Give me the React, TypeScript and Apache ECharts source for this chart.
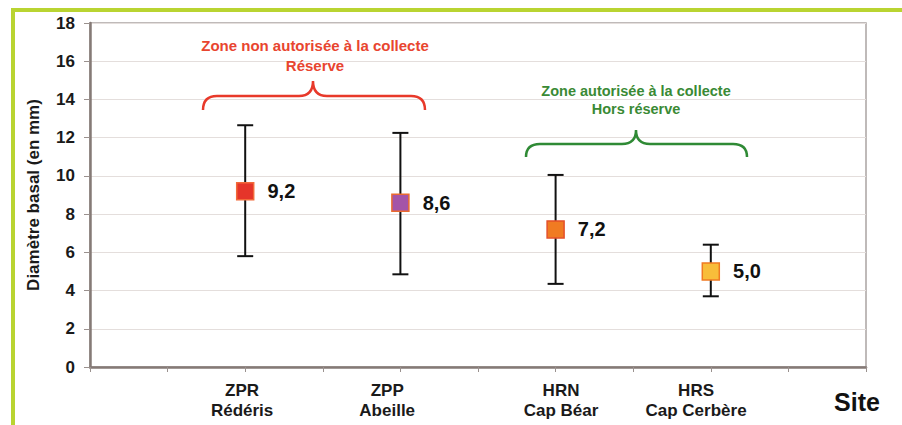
import React, { useEffect, useRef } from "react";
import * as echarts from "echarts";

// ---- data ----
const siteLabels = ["ZPR\nRédéris", "ZPP\nAbeille", "HRN\nCap Béar", "HRS\nCap Cerbère"];
const siteX = [2, 4, 6, 8];
const siteLabelX = [1.96, 3.83, 6.07, 7.81];
const means = [9.2, 8.6, 7.2, 5.0];
const lows = [5.8, 4.85, 4.35, 3.7];
const highs = [12.65, 12.25, 10.05, 6.4];
const markerFill = ["#e5352a", "#a454a8", "#f07b22", "#f8bd3a"];
const markerBorder = ["#f26a3a", "#ea6a30", "#e4502a", "#f07a22"];
const yTicks = [0, 2, 4, 6, 8, 10, 12, 14, 16, 18];

const FONT = "'Liberation Sans', Arial, sans-serif";

echarts.graphic.registerShape(
  "braceRed",
  echarts.graphic.extendPath(
    "M203,110 Q203,96 217,96 L299,96 Q313,96 313,81 Q313,96 327,96 L411,96 Q425,96 425,110",
    {}
  )
);
echarts.graphic.registerShape(
  "braceGreen",
  echarts.graphic.extendPath(
    "M526,157 Q526,144 540,144 L622,144 Q636,144 636,130 Q636,144 650,144 L733,144 Q747,144 747,157",
    {}
  )
);

export default function App() {
  const ref = useRef<HTMLDivElement>(null);

  useEffect(() => {
    if (!ref.current) return;
    const chart = echarts.init(ref.current, null, { renderer: "svg" });

    const option: any = {
      animation: false,
      backgroundColor: "#ffffff",
      textStyle: { fontFamily: FONT },
      grid: {
        left: 90,
        right: 36,
        top: 23,
        bottom: 58,
        show: true,
        borderColor: "#aaa4a2",
        borderWidth: 1.5,
        backgroundColor: "transparent",
      },
      xAxis: {
        type: "value",
        min: 0,
        max: 10,
        interval: 1,
        axisLine: { show: true, onZero: false, lineStyle: { color: "#857a76", width: 2.5 } },
        axisTick: { show: true, length: 5, lineStyle: { color: "#9a918e", width: 1 } },
        splitLine: { show: false },
        axisLabel: {
          show: true,
          customValues: siteLabelX,
          margin: 13,
          formatter: (v: number) => {
            const i = siteLabelX.findIndex((x) => Math.abs(x - v) < 1e-6);
            return i >= 0 ? siteLabels[i] : "";
          },
          color: "#1a1a1a",
          fontWeight: "bold",
          fontSize: 17,
          lineHeight: 20,
          fontFamily: FONT,
        },
      },
      yAxis: {
        type: "value",
        min: 0,
        max: 18,
        interval: 2,
        name: "Diamètre basal (en mm)",
        nameLocation: "middle",
        nameRotate: 90,
        nameGap: 48,
        nameTextStyle: { color: "#1a1a1a", fontWeight: "bold", fontSize: 17, fontFamily: FONT },
        axisLine: { show: true, lineStyle: { color: "#857a76", width: 2.5 } },
        axisTick: { show: true, length: 6, lineStyle: { color: "#9a918e", width: 1 } },
        splitLine: { show: true, lineStyle: { color: "#e4dedc", width: 1 } },
        axisLabel: {
          margin: 15,
          color: "#1a1a1a",
          fontWeight: "bold",
          fontSize: 17,
          fontFamily: FONT,
          customValues: yTicks,
        },
      },
      series: [
        {
          type: "custom",
          name: "range",
          data: siteX.map((x, i) => [x, lows[i], highs[i]]),
          encode: { x: 0, y: [1, 2] },
          z: 2,
          renderItem: (params: any, api: any) => {
            const x = api.value(0);
            const lo = api.coord([x, api.value(1)]);
            const hi = api.coord([x, api.value(2)]);
            const hw = 8;
            const style = { stroke: "#111111", lineWidth: 2 };
            return {
              type: "group",
              children: [
                { type: "line", shape: { x1: lo[0], y1: lo[1], x2: hi[0], y2: hi[1] }, style },
                { type: "line", shape: { x1: lo[0] - hw, y1: lo[1], x2: lo[0] + hw, y2: lo[1] }, style },
                { type: "line", shape: { x1: hi[0] - hw, y1: hi[1], x2: hi[0] + hw, y2: hi[1] }, style },
              ],
            };
          },
        },
        {
          type: "scatter",
          name: "mean",
          symbol: "rect",
          symbolSize: 17,
          z: 3,
          data: siteX.map((x, i) => ({
            value: [x, means[i]],
            itemStyle: { color: markerFill[i], borderColor: markerBorder[i], borderWidth: 1.5, opacity: 1 },
          })),
          label: {
            show: true,
            position: "right",
            distance: 13,
            color: "#111111",
            fontWeight: "bold",
            fontSize: 20,
            fontFamily: FONT,
            formatter: (p: any) => p.value[1].toFixed(1).replace(".", ","),
          },
        },
      ],
      graphic: [
        { type: "rect", left: 11, top: 8, shape: { width: 891, height: 4 }, style: { fill: "#b9d431" }, z: 10 },
        { type: "rect", left: 11, top: 8, shape: { width: 4, height: 417 }, style: { fill: "#b9d431" }, z: 10 },
        {
          type: "braceRed",
          style: { stroke: "#e8392a", lineWidth: 2.5, fill: null },
          z: 10,
        },
        {
          type: "braceGreen",
          style: { stroke: "#2f8a35", lineWidth: 2.5, fill: null },
          z: 10,
        },
        {
          type: "text",
          x: 315,
          y: 55,
          style: {
            text: "Zone non autorisée à la collecte\nRéserve",
            fill: "#e8452f",
            font: `bold 15px ${FONT}`,
            align: "center",
            verticalAlign: "middle",
            lineHeight: 20,
          },
          z: 10,
        },
        {
          type: "text",
          x: 636,
          y: 100,
          style: {
            text: "Zone autorisée à la collecte\nHors réserve",
            fill: "#3a8a35",
            font: `bold 14.5px ${FONT}`,
            align: "center",
            verticalAlign: "middle",
            lineHeight: 18,
          },
          z: 10,
        },
        {
          type: "text",
          x: 857,
          y: 402,
          style: {
            text: "Site",
            fill: "#111111",
            font: `bold 25px ${FONT}`,
            align: "center",
            verticalAlign: "middle",
          },
          z: 10,
        },
      ],
    };

    chart.setOption(option);
    return () => chart.dispose();
  }, []);

  return (
    <div
      ref={ref}
      style={{ position: "fixed", left: 0, top: 0, width: 902, height: 425 }}
    />
  );
}
